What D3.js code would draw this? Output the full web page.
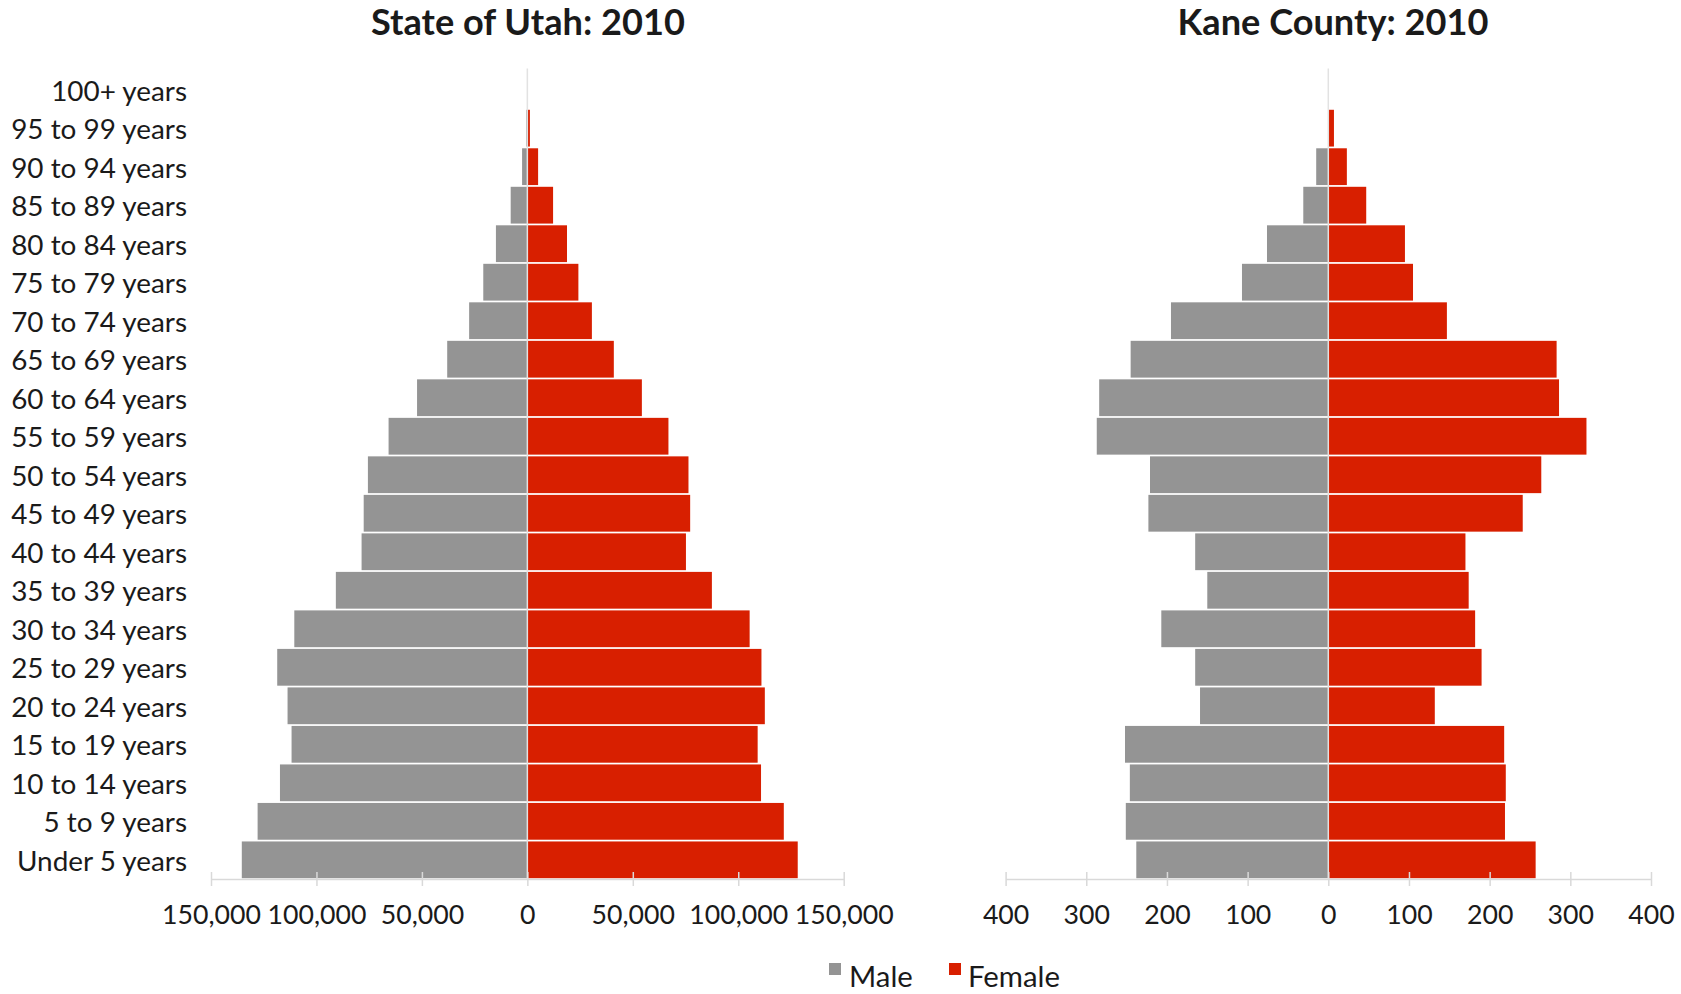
<!DOCTYPE html>
<html>
<head>
<meta charset="utf-8">
<script src="https://cdn.jsdelivr.net/npm/d3@7"></script>
<style>
  html, body { margin: 0; padding: 0; background: #ffffff; }
  svg { display: block; }
  text { font-family: Lato, "Open Sans", sans-serif; fill: #1a1a1a; }
</style>
</head>
<body>
<svg id="chart" width="1681" height="994"></svg>
<script>
// ---------- DATA ----------
const ageGroups = [
  "100+ years", "95 to 99 years", "90 to 94 years", "85 to 89 years",
  "80 to 84 years", "75 to 79 years", "70 to 74 years", "65 to 69 years",
  "60 to 64 years", "55 to 59 years", "50 to 54 years", "45 to 49 years",
  "40 to 44 years", "35 to 39 years", "30 to 34 years", "25 to 29 years",
  "20 to 24 years", "15 to 19 years", "10 to 14 years", "5 to 9 years",
  "Under 5 years"
];

const utahMale = [
  60, 500, 2500, 7900, 14900, 20900, 27600, 38000, 52300, 65800, 75600,
  77600, 78600, 90800, 110500, 118600, 113700, 111800, 117300, 127900, 135400
];
const utahFemale = [
  240, 1200, 5100, 12200, 18800, 24200, 30600, 41000, 54300, 66900, 76400,
  77200, 75200, 87500, 105400, 111000, 112600, 109200, 110800, 121600, 128200
];

const kaneMale = [
  0, 0, 15, 31, 76, 107, 195, 245, 284, 287, 221,
  223, 165, 150, 207, 165, 159, 252, 246, 251, 238
];
const kaneFemale = [
  0, 7, 23, 47, 95, 105, 147, 283, 286, 320, 264,
  241, 170, 174, 182, 190, 132, 218, 220, 219, 257
];

const utahTicks = [-150000, -100000, -50000, 0, 50000, 100000, 150000];
const kaneTicks = [-400, -300, -200, -100, 0, 100, 200, 300, 400];

const seriesNames = ["Male", "Female"];
const titles = ["State of Utah: 2010", "Kane County: 2010"];

// ---------- STYLE ----------
const colors = { Male: "#949494", Female: "#d81f00" };
const axisColor = "#d9d9d9";

const svg = d3.select("#chart");

// fit font size so a sample string reaches a target width
function fitSize(sample, targetWidth, weight) {
  const t = svg.append("text")
    .attr("font-size", 100)
    .attr("font-weight", weight || "normal")
    .text(sample);
  const w = t.node().getComputedTextLength();
  t.remove();
  return 100 * targetWidth / w;
}

const catSize = fitSize("Under 5 years", 170);
const tickSize = fitSize("150,000", 99);
const legendSize = fitSize("Female", 92);
const titleSize = fitSize("State of Utah: 2010", 314, "bold");

const yTop = 70.5, yBottom = 879;
const y = d3.scaleBand()
  .domain(ageGroups)
  .range([yTop, yBottom])
  .paddingInner(0.045)
  .paddingOuter(0.02);

const panels = [
  {
    title: titles[0], male: utahMale, female: utahFemale, ticks: utahTicks,
    x: d3.scaleLinear().domain([-150000, 150000]).range([211, 843.7]),
    titleX: 528
  },
  {
    title: titles[1], male: kaneMale, female: kaneFemale, ticks: kaneTicks,
    x: d3.scaleLinear().domain([-400, 400]).range([1005.6, 1651]),
    titleX: 1333
  }
];

const fmt = d3.format(",");

panels.forEach(p => {
  const g = svg.append("g");
  const x = p.x;

  const rows = ageGroups.map((a, i) => ({ age: a, male: p.male[i], female: p.female[i] }));

  g.selectAll("rect.male").data(rows).join("rect")
    .attr("class", "male")
    .attr("x", d => x(-d.male))
    .attr("y", d => y(d.age))
    .attr("width", d => x(0) - x(-d.male))
    .attr("height", y.bandwidth())
    .attr("fill", colors.Male);

  g.selectAll("rect.female").data(rows).join("rect")
    .attr("class", "female")
    .attr("x", x(0))
    .attr("y", d => y(d.age))
    .attr("width", d => x(d.female) - x(0))
    .attr("height", y.bandwidth())
    .attr("fill", colors.Female);

  const axis = d3.axisBottom(x)
    .tickValues(p.ticks)
    .tickSizeOuter(0)
    .tickSizeInner(6)
    .tickFormat(v => fmt(Math.abs(v)));

  const ag = g.append("g")
    .attr("transform", `translate(0,${yBottom})`)
    .call(axis);
  ag.select(".domain").attr("stroke", axisColor).attr("stroke-width", 1.5);
  ag.selectAll(".tick line")
    .attr("y1", -7).attr("y2", 7)
    .attr("stroke", axisColor).attr("stroke-width", 1.5);
  ag.selectAll(".tick text")
    .attr("y", 35).attr("dy", null)
    .attr("dominant-baseline", "central")
    .attr("font-family", "Lato, 'Open Sans', sans-serif")
    .attr("font-size", tickSize)
    .attr("fill", "#1a1a1a");

  g.append("line")
    .attr("x1", x(0)).attr("x2", x(0))
    .attr("y1", yTop - 2).attr("y2", yBottom)
    .attr("stroke", "#e2e2e2")
    .attr("stroke-width", 1.5);

  svg.append("text")
    .attr("x", p.titleX)
    .attr("y", 35)
    .attr("text-anchor", "middle")
    .attr("font-weight", "bold")
    .attr("font-size", titleSize)
    .attr("fill", "#222")
    .text(p.title);
});

// category labels
svg.append("g").selectAll("text").data(ageGroups).join("text")
  .attr("x", 187)
  .attr("y", d => y(d) + y.bandwidth() / 2)
  .attr("text-anchor", "end")
  .attr("dominant-baseline", "central")
  .attr("font-size", catSize)
  .text(d => d);

// legend
const legendItems = [
  { name: seriesNames[0], sx: 829, tx: 849 },
  { name: seriesNames[1], sx: 949, tx: 968 }
];
const lg = svg.append("g");
lg.selectAll("rect").data(legendItems).join("rect")
  .attr("x", d => d.sx).attr("y", 963)
  .attr("width", 12).attr("height", 12)
  .attr("fill", d => colors[d.name]);
lg.selectAll("text").data(legendItems).join("text")
  .attr("x", d => d.tx).attr("y", 975)
  .attr("dominant-baseline", "central")
  .attr("font-size", legendSize)
  .text(d => d.name);
</script>
</body>
</html>
